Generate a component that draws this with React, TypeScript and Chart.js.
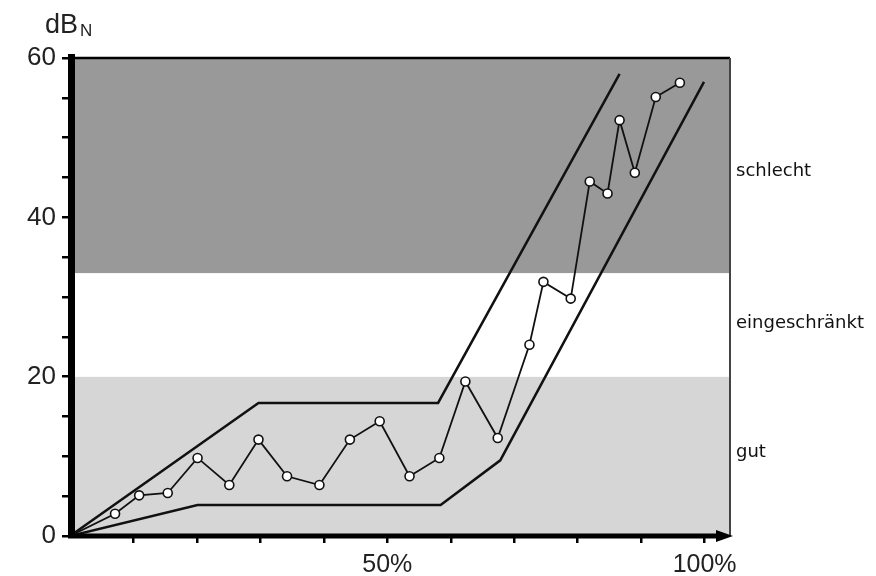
import { useEffect, useRef } from 'react';
import { Chart, registerables } from 'chart.js';

Chart.register(...registerables);

// ---- data ----
const xTickValues = [10, 20, 30, 40, 50, 60, 70, 80, 90, 100];
const xTickLabelValues = [50, 100];
const yTickLabelValues = [0, 20, 40, 60];

const measX = [0, 7.1, 10.9, 15.4, 20.1, 25.1, 29.7, 34.2, 39.3, 44.1, 48.8, 53.5, 58.2, 62.3, 67.4, 72.4, 74.6, 78.9, 81.9, 84.7, 86.6, 89.0, 92.3, 96.1];
const measY = [0, 2.8, 5.1, 5.4, 9.8, 6.4, 12.1, 7.5, 6.4, 12.1, 14.4, 7.5, 9.8, 19.4, 12.3, 24.0, 31.9, 29.8, 44.5, 43.0, 52.2, 45.6, 55.1, 56.9];

const upperX = [0, 29.7, 58.0, 86.6];
const upperY = [0, 16.7, 16.7, 58.0];
const lowerX = [0, 20.1, 58.4, 67.8, 99.9];
const lowerY = [0, 3.9, 3.9, 9.5, 57.0];

const bandNames = ['gut', 'eingeschränkt', 'schlecht'];
const bandFrom = [0, 20, 33];
const bandTo = [20, 33, 60];
const bandLabelAt = [10.5, 26.7, 45.8];

const bandColors = ['#d6d6d6', '#ffffff', '#999999'];

const toPts = (xs: number[], ys: number[]) => xs.map((x, i) => ({ x, y: ys[i] }));

const FONT = '"Liberation Sans", Arial, sans-serif';

const decorPlugin = {
  id: 'decor',
  beforeDatasetsDraw(chart: any) {
    const { ctx, chartArea, scales } = chart;
    const { left, right } = chartArea;
    const y = scales.y;
    ctx.save();
    bandFrom.forEach((f, i) => {
      const y1 = y.getPixelForValue(bandTo[i]);
      const y2 = y.getPixelForValue(f);
      ctx.fillStyle = bandColors[i];
      ctx.fillRect(left, y1, right - left, y2 - y1);
    });
    ctx.fillStyle = '#111';
    ctx.font = '18px "DejaVu Sans", sans-serif';
    ctx.textBaseline = 'middle';
    ctx.textAlign = 'left';
    bandNames.forEach((n, i) => {
      ctx.fillText(n, right + 6, y.getPixelForValue(bandLabelAt[i]));
    });
    ctx.restore();
  },
  afterDatasetsDraw(chart: any) {
    const { ctx, chartArea } = chart;
    const { left, right, top, bottom } = chartArea;
    ctx.save();
    // top border
    ctx.strokeStyle = '#000';
    ctx.lineWidth = 2.5;
    ctx.beginPath();
    ctx.moveTo(left, top);
    ctx.lineTo(right, top);
    ctx.stroke();
    // right border
    ctx.strokeStyle = '#444';
    ctx.lineWidth = 2;
    ctx.beginPath();
    ctx.moveTo(right, top);
    ctx.lineTo(right, bottom);
    ctx.stroke();
    // x axis
    ctx.strokeStyle = '#000';
    ctx.lineWidth = 5;
    ctx.beginPath();
    ctx.moveTo(left - 2, bottom);
    ctx.lineTo(right - 8, bottom);
    ctx.stroke();
    // arrow
    ctx.fillStyle = '#000';
    ctx.beginPath();
    ctx.moveTo(right - 14, bottom - 6);
    ctx.lineTo(right + 3, bottom);
    ctx.lineTo(right - 14, bottom + 6);
    ctx.closePath();
    ctx.fill();
    // y axis
    ctx.lineWidth = 7;
    ctx.beginPath();
    ctx.moveTo(left + 1.5, bottom + 2);
    ctx.lineTo(left + 1.5, top - 4);
    ctx.stroke();
    // unit label
    ctx.fillStyle = '#222';
    ctx.textBaseline = 'alphabetic';
    ctx.textAlign = 'left';
    ctx.font = `27px ${FONT}`;
    ctx.fillText('dB', 45, 33);
    ctx.font = `17px ${FONT}`;
    ctx.fillText('N', 80, 36);
    ctx.restore();
  },
};

export default function App() {
  const ref = useRef<HTMLCanvasElement | null>(null);
  useEffect(() => {
    if (!ref.current) return;
    const chart = new Chart(ref.current, {
      type: 'line',
      data: {
        datasets: [
          {
            label: 'Messwerte',
            data: toPts(measX, measY),
            borderColor: '#111',
            borderWidth: 1.8,
            pointRadius: (c: any) => (c.dataIndex === 0 ? 0 : 4.5),
            pointBackgroundColor: '#fff',
            pointBorderColor: '#111',
            pointBorderWidth: 1.6,
            order: 0,
          },
          {
            label: 'obere Grenze',
            data: toPts(upperX, upperY),
            borderColor: '#111',
            borderWidth: 2.5,
            pointRadius: 0,
            order: 1,
          },
          {
            label: 'untere Grenze',
            data: toPts(lowerX, lowerY),
            borderColor: '#111',
            borderWidth: 2.5,
            pointRadius: 0,
            order: 1,
          },
        ],
      },
      options: {
        responsive: false,
        animation: false,
        layout: { padding: { top: 58, right: 146, left: 0, bottom: 0 } },
        plugins: { legend: { display: false }, tooltip: { enabled: false } },
        scales: {
          x: {
            type: 'linear',
            min: 0,
            max: 104,
            afterBuildTicks: (s: any) => {
              s.ticks = xTickValues.map((v) => ({ value: v }));
            },
            afterFit: (s: any) => {
              s.height = 40;
            },
            grid: { drawOnChartArea: false, drawTicks: true, tickLength: 7, color: '#000', lineWidth: 2.5 },
            border: { display: false },
            ticks: {
              autoSkip: false,
              maxRotation: 0,
              padding: 7,
              color: '#222',
              font: { family: FONT, size: 25 },
              callback: (v: any) => (xTickLabelValues.includes(Number(v)) ? `${v}%` : ''),
            },
          },
          y: {
            type: 'linear',
            min: 0,
            max: 60,
            afterFit: (s: any) => {
              s.width = 70;
            },
            grid: { drawOnChartArea: false, drawTicks: true, tickLength: 8, color: '#000', lineWidth: 2.5 },
            border: { display: false },
            ticks: {
              stepSize: 5,
              autoSkip: false,
              padding: 6,
              color: '#222',
              font: { family: FONT, size: 26 },
              callback: (v: any) => (yTickLabelValues.includes(Number(v)) ? String(v) : ''),
            },
          },
        },
      },
      plugins: [decorPlugin],
    } as any);
    return () => chart.destroy();
  }, []);
  return (
    <div style={{ position: 'fixed', left: 0, top: 0, width: 876, height: 576, background: '#fff' }}>
      <canvas ref={ref} width={876} height={576} />
    </div>
  );
}
